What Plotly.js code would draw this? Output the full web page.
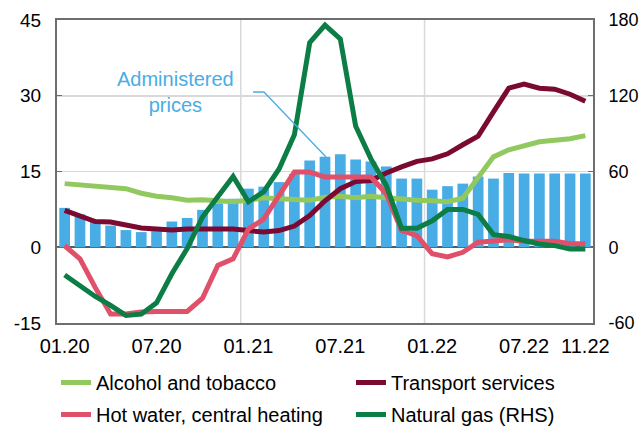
<!DOCTYPE html>
<html><head><meta charset="utf-8">
<script src="https://cdn.plot.ly/plotly-3.0.1.min.js"></script>
<style>html,body{margin:0;padding:0;background:#fff}#chart{width:642px;height:426px}</style>
</head><body><div id="chart"></div>
<script>
const months = ['01.20','02.20','03.20','04.20','05.20','06.20','07.20','08.20','09.20','10.20','11.20','12.20',
'01.21','02.21','03.21','04.21','05.21','06.21','07.21','08.21','09.21','10.21','11.21','12.21',
'01.22','02.22','03.22','04.22','05.22','06.22','07.22','08.22','09.22','10.22','11.22'];
const tickLabels = ['01.20','07.20','01.21','07.21','01.22','07.22','11.22'];
const leftTicks = [-15, 0, 15, 30, 45];
const leftTickText = ['-15', '0', '15', '30', '45'];
const rightTicks = [-60, 0, 60, 120, 180];
const rightTickText = ['-60', '0', '60', '120', '180'];
const administered = [7.8,6.5,5.3,4.3,3.4,3.0,3.2,5.1,5.8,7.4,8.7,9.6,11.6,12.0,12.9,14.5,17.2,17.9,18.4,17.4,17.0,16.0,13.6,13.6,11.4,12.1,12.6,14.0,13.6,14.7,14.6,14.6,14.6,14.6,14.6];
const alcohol = [12.6,12.3,12.2,11.8,11.6,10.7,10.1,9.8,9.3,9.4,9.3,9.0,9.3,9.8,9.6,9.5,9.3,9.9,10.1,9.8,10.1,9.8,9.5,9.3,9.2,9.0,9.7,13.9,17.9,19.3,20.0,20.9,21.2,21.5,22.1];
const transport = [7.3,6.1,5.1,5.0,4.3,3.8,3.6,3.4,3.6,3.6,3.4,3.6,3.3,3.0,3.3,4.2,6.3,9.2,11.6,13.0,13.2,14.7,15.9,17.0,17.5,18.5,20.3,22.0,26.8,31.5,32.3,31.5,31.3,30.3,28.9];
const hotWater = [0.3,-2.3,-8.0,-13.2,-13.2,-12.8,-12.7,-12.7,-12.7,-10.1,-3.6,-2.3,3.6,5.6,10.3,14.9,14.9,13.9,13.9,13.9,13.9,10.6,3.3,2.3,-1.3,-1.9,-1.0,1.0,1.3,1.5,1.2,1.2,1.2,0.7,0.7];
const naturalGas = [-22,-31,-39,-46,-54,-53,-44,-21,-1,24,40,56,36,44,62,89,162,176,165,96,70,49,15,15,21,30,30,26,10,8.5,5.3,2.6,1.3,-1.3,-1.3];

const FONT = 'Liberation Sans, Arial, sans-serif';
const traces = [
  {type:'bar', x:months, y:administered, marker:{color:'#49ADE5'}, showlegend:false, name:'Administered prices', hoverinfo:'skip'},
  {type:'scatter', mode:'lines', x:months, y:alcohol, name:'Alcohol and tobacco', legend:'legend', line:{color:'#92C95E', width:5}},
  {type:'scatter', mode:'lines', x:months, y:transport, name:'Transport services', legend:'legend2', line:{color:'#7B0A32', width:5}},
  {type:'scatter', mode:'lines', x:months, y:hotWater, name:'Hot water, central heating', legend:'legend3', line:{color:'#E0506A', width:5}},
  {type:'scatter', mode:'lines', x:months, y:naturalGas, name:'Natural gas (RHS)', legend:'legend4', yaxis:'y2', line:{color:'#0B7D45', width:5}}
];

const legendBase = {orientation:'h', xref:'container', yref:'container', xanchor:'left', yanchor:'top', font:{family:FONT, size:20, color:'#000'}, bgcolor:'rgba(0,0,0,0)', borderwidth:0};

const layout = {
  width:642, height:426,
  margin:{l:57, r:49, t:20, b:103},
  paper_bgcolor:'#fff', plot_bgcolor:'#fff',
  font:{family:FONT, size:20, color:'#000'},
  bargap:0.3,
  showlegend:true,
  legend:Object.assign({}, legendBase, {x:0.0872, y:0.1479}),
  legend2:Object.assign({}, legendBase, {x:0.5467, y:0.1479}),
  legend3:Object.assign({}, legendBase, {x:0.0872, y:0.0728}),
  legend4:Object.assign({}, legendBase, {x:0.5467, y:0.0728}),
  xaxis:{type:'category', tickmode:'array', tickvals:tickLabels, ticktext:tickLabels, showgrid:false, showline:true, mirror:true, linecolor:'#6e6e6e', linewidth:2, ticks:'', zeroline:false, range:[-0.5,34.5], ticklabelstandoff:4, tickfont:{size:20}},
  yaxis:{range:[-15,45], tickmode:'array', tickvals:leftTicks, ticktext:leftTickText, showgrid:true, gridcolor:'#d9d9d9', gridwidth:1.5, zeroline:true, zerolinecolor:'#595959', zerolinewidth:2, showline:true, linecolor:'#6e6e6e', linewidth:2, ticks:'inside', ticklen:5, tickcolor:'#6e6e6e', ticklabelstandoff:10, tickfont:{size:19}},
  yaxis2:{range:[-60,180], tickmode:'array', tickvals:rightTicks, ticktext:rightTickText, overlaying:'y', side:'right', showgrid:false, zeroline:false, showline:true, linecolor:'#6e6e6e', linewidth:2, ticks:'inside', ticklen:5, tickcolor:'#6e6e6e', ticklabelstandoff:10, tickfont:{size:18}},
  shapes:[
    {type:'line', xref:'x', yref:'paper', x0:11.5, x1:11.5, y0:0, y1:1, line:{color:'#d9d9d9', width:1.5}, layer:'below'},
    {type:'line', xref:'x', yref:'paper', x0:23.5, x1:23.5, y0:0, y1:1, line:{color:'#d9d9d9', width:1.5}, layer:'below'},
    {type:'path', xref:'paper', yref:'paper', path:'M 0.3657 0.7624 L 0.3862 0.7624 L 0.5019 0.5479', line:{color:'#49ADE5', width:1.3}}
  ],
  annotations:[
    {xref:'paper', yref:'paper', x:0.221, y:0.762, text:'Administered<br>prices', showarrow:false, font:{family:FONT, size:20, color:'#49ADE5'}, align:'center', xanchor:'center', yanchor:'middle'}
  ]
};
Plotly.newPlot('chart', traces, layout, {displayModeBar:false, staticPlot:true});
</script></body></html>
